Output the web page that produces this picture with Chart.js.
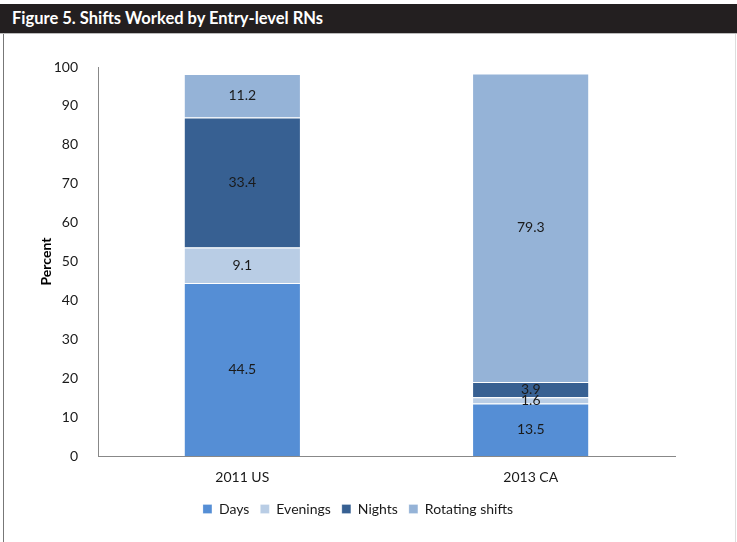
<!DOCTYPE html>
<html>
<head>
<meta charset="utf-8">
<script src="https://cdn.jsdelivr.net/npm/chart.js@4.4.0/dist/chart.umd.min.js"></script>
<style>
  body { margin: 0; background: #fff; }
  #frame { position: relative; width: 737px; height: 542px; overflow: hidden; }
  #titleBar {
    position: absolute; left: 0; top: 4px; width: 737px; height: 30px;
    background: #231f20; border-bottom: 1px solid #bbb; box-sizing: border-box;
    color: #fff; font: bold 16.5px Lato, "Noto Sans", sans-serif;
    line-height: 29px; padding-left: 12px;
  }
  #leftRule { position: absolute; left: 3px; top: 34px; width: 1px; height: 508px; background: #777; }
  #rightRule { position: absolute; left: 735px; top: 34px; width: 1px; height: 508px; background: #ddd; }
  #chartBox { position: absolute; left: 4px; top: 34px; width: 731px; height: 508px; }
</style>
</head>
<body>
<div id="frame">
  <div id="titleBar">Figure 5. Shifts Worked by Entry-level RNs</div>
  <div id="leftRule"></div>
  <div id="rightRule"></div>
  <div id="chartBox"><canvas id="barChart"></canvas></div>
</div>
<script>
  // Survey groups and share of each shift type (percent)
  const groups = ['2011 US', '2013 CA'];
  const days = [44.5, 13.5];
  const evenings = [9.1, 1.6];
  const nights = [33.4, 3.9];
  const rotating = [11.2, 79.3];
  const yTicks = [0, 10, 20, 30, 40, 50, 60, 70, 80, 90, 100];

  const fontFamily = 'Lato, "Open Sans", sans-serif';

  // Write each segment's value in the middle of its bar piece
  const valueLabels = {
    id: 'valueLabels',
    afterDatasetsDraw(chart) {
      const ctx = chart.ctx;
      ctx.save();
      ctx.font = '14px ' + fontFamily;
      ctx.fillStyle = '#1a1a1a';
      ctx.textAlign = 'center';
      ctx.textBaseline = 'middle';
      chart.data.datasets.forEach((ds, i) => {
        chart.getDatasetMeta(i).data.forEach((bar, j) => {
          const mid = (bar.y + bar.base) / 2;
          ctx.fillText(ds.data[j].toFixed(1), bar.x, mid);
        });
      });
      ctx.restore();
    }
  };

  const ctx = document.getElementById('barChart').getContext('2d');
  new Chart(ctx, {
    type: 'bar',
    data: {
      labels: groups,
      datasets: [
        { label: 'Days', data: days, backgroundColor: '#558ed5' },
        { label: 'Evenings', data: evenings, backgroundColor: '#b9cde5' },
        { label: 'Nights', data: nights, backgroundColor: '#376092' },
        { label: 'Rotating shifts', data: rotating, backgroundColor: '#95b3d7' }
      ].map(ds => Object.assign(ds, {
        borderColor: '#ffffff',
        borderWidth: { top: 1, bottom: 0, left: 0, right: 0 },
        borderSkipped: false,
        categoryPercentage: 0.8,
        barPercentage: 0.5
      }))
    },
    options: {
      responsive: true,
      maintainAspectRatio: false,
      animation: false,
      layout: { padding: { top: 33, right: 23, left: 0, bottom: 16 } },
      plugins: {
        legend: {
          position: 'bottom',
          labels: {
            boxWidth: 9,
            boxHeight: 9,
            padding: 11,
            color: '#1a1a1a',
            font: { family: fontFamily, size: 14 }
          }
        },
        tooltip: { enabled: false }
      },
      scales: {
        x: {
          stacked: true,
          afterFit: axis => { axis.height = 35; },
          grid: { display: false },
          border: { color: '#888' },
          ticks: { color: '#1a1a1a', padding: 5, font: { family: fontFamily, size: 14 } }
        },
        y: {
          stacked: true,
          min: 0,
          max: 100,
          afterBuildTicks: axis => { axis.ticks = yTicks.map(v => ({ value: v })); },
          afterFit: axis => { axis.width = 94; },
          grid: { display: false },
          border: { color: '#888' },
          ticks: { color: '#1a1a1a', padding: 12, font: { family: fontFamily, size: 14 } },
          title: {
            display: true,
            text: 'Percent',
            color: '#000',
            padding: { top: 34, bottom: 0 },
            font: { family: fontFamily, size: 14, weight: 'bold' }
          }
        },
        // empty spacer on the right so the legend sits off-centre like the plot
        spacer: {
          position: 'right',
          min: 0,
          max: 100,
          afterFit: axis => { axis.width = 37; },
          grid: { display: false },
          border: { display: false },
          ticks: { display: false }
        }
      }
    },
    plugins: [valueLabels]
  });
</script>
</body>
</html>
